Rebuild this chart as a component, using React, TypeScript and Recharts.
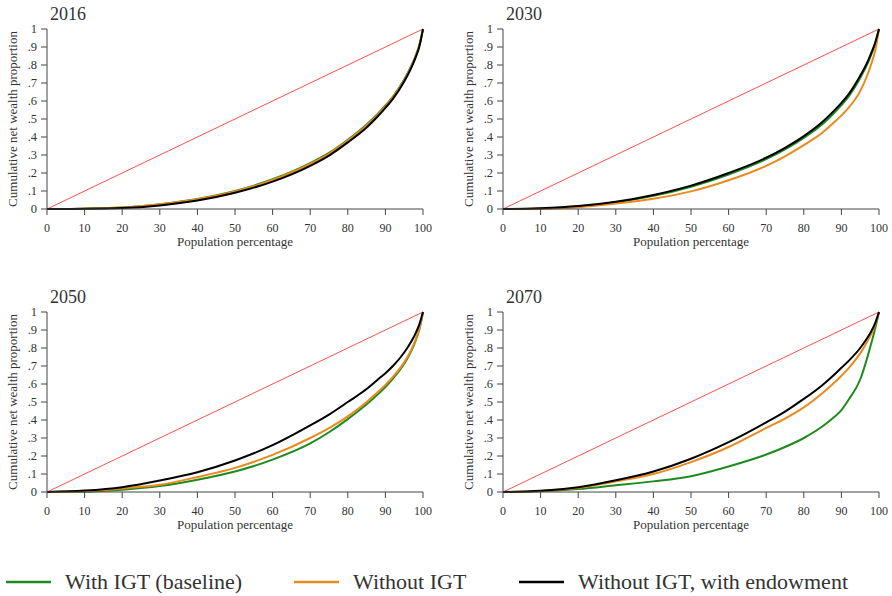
import { Line, LineChart, XAxis, YAxis } from "recharts";

// population percentiles where the curves were read
const xs = [0, 10, 20, 30, 40, 50, 60, 70, 75, 80, 85, 88, 90, 92, 95, 97, 98, 99, 100];

const green2016 = [0, 0.002, 0.008, 0.027, 0.056, 0.1, 0.165, 0.255, 0.312, 0.385, 0.47, 0.53, 0.575, 0.625, 0.72, 0.8, 0.85, 0.91, 1];
const orange2016 = [0, 0.002, 0.008, 0.026, 0.054, 0.097, 0.161, 0.25, 0.307, 0.38, 0.464, 0.524, 0.57, 0.62, 0.715, 0.795, 0.845, 0.905, 1];
const black2016 = [0, 0.001, 0.005, 0.02, 0.047, 0.09, 0.152, 0.24, 0.297, 0.37, 0.453, 0.515, 0.562, 0.612, 0.708, 0.79, 0.84, 0.9, 1];

const green2030 = [0, 0.003, 0.014, 0.037, 0.073, 0.124, 0.192, 0.277, 0.331, 0.395, 0.472, 0.532, 0.577, 0.627, 0.727, 0.81, 0.86, 0.92, 1];
const orange2030 = [0, 0.002, 0.01, 0.03, 0.057, 0.098, 0.16, 0.24, 0.293, 0.355, 0.425, 0.48, 0.52, 0.565, 0.655, 0.75, 0.81, 0.88, 1];
const black2030 = [0, 0.004, 0.016, 0.04, 0.078, 0.13, 0.2, 0.285, 0.34, 0.405, 0.485, 0.545, 0.59, 0.64, 0.74, 0.82, 0.87, 0.925, 1];

const green2050 = [0, 0.002, 0.013, 0.033, 0.068, 0.114, 0.18, 0.27, 0.332, 0.405, 0.487, 0.543, 0.583, 0.63, 0.712, 0.788, 0.84, 0.9, 1];
const orange2050 = [0, 0.004, 0.02, 0.04, 0.083, 0.134, 0.206, 0.3, 0.355, 0.42, 0.5, 0.555, 0.595, 0.64, 0.72, 0.795, 0.845, 0.905, 1];
const black2050 = [0, 0.008, 0.027, 0.064, 0.11, 0.175, 0.26, 0.37, 0.43, 0.5, 0.572, 0.625, 0.66, 0.7, 0.775, 0.84, 0.88, 0.93, 1];

const green2070 = [0, 0.004, 0.016, 0.037, 0.059, 0.088, 0.142, 0.208, 0.25, 0.3, 0.365, 0.415, 0.455, 0.515, 0.625, 0.755, 0.83, 0.91, 1];
const orange2070 = [0, 0.006, 0.024, 0.059, 0.1, 0.166, 0.25, 0.356, 0.408, 0.47, 0.55, 0.605, 0.646, 0.69, 0.77, 0.84, 0.88, 0.93, 1];
const black2070 = [0, 0.007, 0.027, 0.065, 0.114, 0.185, 0.277, 0.387, 0.447, 0.517, 0.595, 0.65, 0.69, 0.73, 0.8, 0.86, 0.895, 0.94, 1];

// line of perfect equality
const equality = [
  { x: 0, eq: 0 },
  { x: 100, eq: 1 },
];

const xTicks = [0, 10, 20, 30, 40, 50, 60, 70, 80, 90, 100];
const yTicks = [0, 0.1, 0.2, 0.3, 0.4, 0.5, 0.6, 0.7, 0.8, 0.9, 1];

const GREEN = "#1f8b1f";
const ORANGE = "#ea8a1e";
const BLACK = "#000000";
const RED = "#ff4f4f";
const AXIS = "#444444";
const TEXT = "#333333";
const FONT = "Liberation Serif";

const build = (g: number[], o: number[], b: number[]) =>
  xs.map((x, i) => ({ x, green: g[i], orange: o[i], black: b[i] }));

const panels = [
  { title: "2016", left: 0, top: 0, data: build(green2016, orange2016, black2016) },
  { title: "2030", left: 456, top: 0, data: build(green2030, orange2030, black2030) },
  { title: "2050", left: 0, top: 283, data: build(green2050, orange2050, black2050) },
  { title: "2070", left: 456, top: 283, data: build(green2070, orange2070, black2070) },
];

const fmtY = (v: number) => (v === 0 ? "0" : v === 1 ? "1" : "." + Math.round(v * 10));

function Panel({ title, left, top, data }: (typeof panels)[number]) {
  return (
    <div style={{ position: "absolute", left, top, width: 450, height: 260 }}>
      <LineChart
        width={450}
        height={260}
        data={data}
        margin={{ top: 29, right: 27, bottom: 11, left: 7 }}
        style={{ fontFamily: FONT }}
      >
        <XAxis
          dataKey="x"
          type="number"
          domain={[0, 100]}
          ticks={xTicks}
          interval={0}
          height={40}
          stroke={AXIS}
          tickSize={6}
          tickMargin={8}
          tick={{ fill: TEXT, fontSize: 12, fontFamily: FONT }}
          label={{
            value: "Population percentage",
            position: "insideBottom",
            offset: 3,
            fill: TEXT,
            fontSize: 13,
            fontFamily: FONT,
          }}
        />
        <YAxis
          type="number"
          domain={[0, 1]}
          ticks={yTicks}
          interval={0}
          width={40}
          stroke={AXIS}
          tickSize={6}
          tickMargin={4}
          tickFormatter={fmtY}
          tick={{ fill: TEXT, fontSize: 12.5, fontFamily: FONT }}
          label={{
            value: "Cumulative net wealth proportion",
            angle: -90,
            position: "insideLeft",
            offset: 5,
            fill: TEXT,
            fontSize: 13,
            fontFamily: FONT,
            style: { textAnchor: "middle" },
          }}
        />
        <Line data={equality} dataKey="eq" stroke={RED} strokeWidth={1} dot={false} isAnimationActive={false} />
        <Line type="monotone" dataKey="green" stroke={GREEN} strokeWidth={2} dot={false} isAnimationActive={false} />
        <Line type="monotone" dataKey="orange" stroke={ORANGE} strokeWidth={2} dot={false} isAnimationActive={false} />
        <Line type="monotone" dataKey="black" stroke={BLACK} strokeWidth={2} dot={false} isAnimationActive={false} />
      </LineChart>
      <svg width={120} height={30} style={{ position: "absolute", left: 0, top: 0 }}>
        <text x={50} y={20} fontSize={18} fontFamily={FONT} fill={TEXT}>
          {title}
        </text>
      </svg>
    </div>
  );
}

const legendItems = [
  { label: "With IGT (baseline)", color: GREEN, x: 6 },
  { label: "Without IGT", color: ORANGE, x: 294 },
  { label: "Without IGT, with endowment", color: BLACK, x: 519 },
];

export default function App() {
  return (
    <div
      style={{
        position: "absolute",
        left: 0,
        top: 0,
        width: 892,
        height: 596,
        background: "#fff",
        fontFamily: FONT,
      }}
    >
      {panels.map((p) => (
        <Panel key={p.title} {...p} />
      ))}
      <svg width={892} height={40} style={{ position: "absolute", left: 0, top: 556 }}>
        {legendItems.map((it) => (
          <g key={it.label}>
            <line x1={it.x} x2={it.x + 45} y1={26} y2={26} stroke={it.color} strokeWidth={2.5} />
            <text x={it.x + 59} y={33} fontSize={22} fontFamily={FONT} fill={TEXT}>
              {it.label}
            </text>
          </g>
        ))}
      </svg>
    </div>
  );
}
